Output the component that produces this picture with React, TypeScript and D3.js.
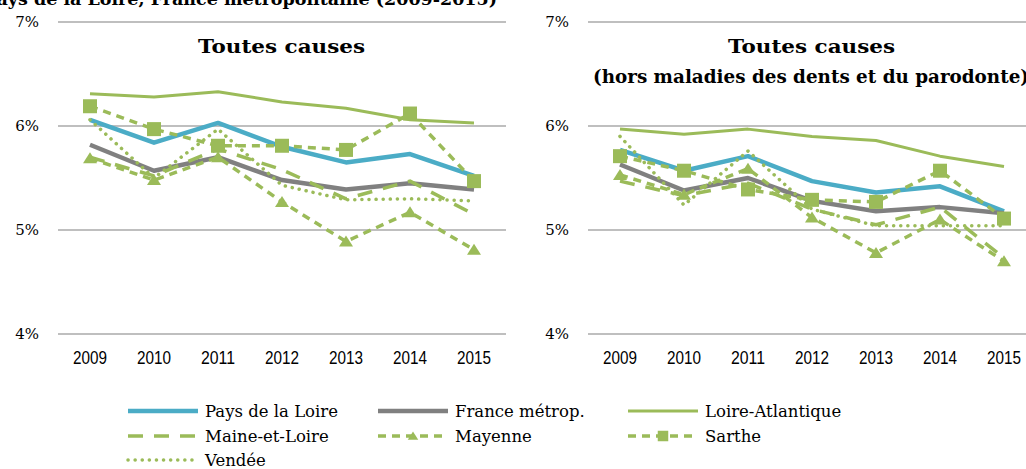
import React from "react";
import * as d3 from "d3";

// categories
const years = ["2009", "2010", "2011", "2012", "2013", "2014", "2015"];
const yTicks = [4, 5, 6, 7];

// Toutes causes
const paysLoireA = [6.06, 5.84, 6.03, 5.8, 5.65, 5.73, 5.52];
const franceA = [5.82, 5.57, 5.7, 5.48, 5.39, 5.45, 5.39];
const loireAtlA = [6.31, 6.28, 6.33, 6.23, 6.17, 6.06, 6.03];
const maineA = [5.7, 5.52, 5.78, 5.58, 5.3, 5.47, 5.15];
const mayenneA = [5.69, 5.48, 5.7, 5.27, 4.89, 5.17, 4.81];
const sartheA = [6.19, 5.97, 5.81, 5.81, 5.77, 6.12, 5.47];
const vendeeA = [6.06, 5.5, 5.97, 5.43, 5.29, 5.3, 5.28];

// Toutes causes (hors maladies des dents et du parodonte)
const paysLoireB = [5.77, 5.57, 5.71, 5.47, 5.36, 5.42, 5.18];
const franceB = [5.63, 5.38, 5.5, 5.28, 5.18, 5.22, 5.16];
const loireAtlB = [5.97, 5.92, 5.97, 5.9, 5.86, 5.71, 5.61];
const maineB = [5.47, 5.33, 5.45, 5.2, 5.05, 5.22, 4.73];
const mayenneB = [5.53, 5.34, 5.59, 5.12, 4.78, 5.1, 4.7];
const sartheB = [5.71, 5.57, 5.39, 5.29, 5.27, 5.57, 5.11];
const vendeeB = [5.9, 5.24, 5.76, 5.2, 5.04, 5.04, 5.04];

const BLUE = "#4BACC6";
const GREY = "#808080";
const GREEN = "#9BBB59";
const SERIF = "'DejaVu Serif', serif";
const SANS = "'Liberation Sans', sans-serif";

type Style = {
  name: string;
  color: string;
  width: number;
  dash?: string;
  cap?: "round" | "butt";
  marker?: "square" | "triangle";
};

const styles: Style[] = [
  { name: "Pays de la Loire", color: BLUE, width: 4.5 },
  { name: "France métrop.", color: GREY, width: 4.5 },
  { name: "Loire-Atlantique", color: GREEN, width: 3 },
  { name: "Maine-et-Loire", color: GREEN, width: 3.5, dash: "15,11" },
  { name: "Mayenne", color: GREEN, width: 3.5, dash: "8,6", marker: "triangle" },
  { name: "Sarthe", color: GREEN, width: 3.5, dash: "8,6", marker: "square" },
  { name: "Vendée", color: GREEN, width: 3.5, dash: "0.1,7", cap: "round" },
];

const Marker = ({ kind, x, y, s = 1 }: { kind?: string; x: number; y: number; s?: number }) => {
  if (kind === "square")
    return <rect x={x - 7 * s} y={y - 7 * s} width={14 * s} height={14 * s} fill={GREEN} />;
  if (kind === "triangle")
    return <path d={`M${x},${y - 6 * s}L${x + 7 * s},${y + 5 * s}L${x - 7 * s},${y + 5 * s}Z`} fill={GREEN} />;
  return null;
};

const Panel = ({ x0, series, yLabX }: { x0: number; series: number[][]; yLabX: number }) => {
  const x = d3.scaleBand<string>().domain(years).range([x0, x0 + 448]);
  const y = d3.scaleLinear().domain([4, 7]).range([334, 22]);
  const cx = (yr: string) => (x(yr) as number) + x.bandwidth() / 2;
  const line = d3.line<number>().x((_, i) => cx(years[i])).y((v) => y(v));
  return (
    <g>
      {yTicks.map((t) => (
        <g key={t}>
          <line x1={x0} x2={x0 + 448} y1={y(t)} y2={y(t)} stroke="#BFBFBF" strokeWidth={2} />
          <text x={yLabX} y={y(t) + 5} textAnchor="end" fontFamily={SERIF} fontSize={15}>
            {t}%
          </text>
        </g>
      ))}
      {years.map((yr) => (
        <text
          key={yr}
          x={cx(yr) - 17}
          y={364}
          fontFamily={SANS}
          fontSize={18.5}
          textLength={34}
          lengthAdjust="spacingAndGlyphs"
        >
          {yr}
        </text>
      ))}
      {series.map((vals, i) => {
        const s = styles[i];
        return (
          <g key={s.name}>
            <path
              d={line(vals) as string}
              fill="none"
              stroke={s.color}
              strokeWidth={s.width}
              strokeDasharray={s.dash}
              strokeLinecap={s.cap || "butt"}
              strokeLinejoin="round"
            />
            {s.marker && vals.map((v, j) => <Marker key={j} kind={s.marker} x={cx(years[j])} y={y(v)} />)}
          </g>
        );
      })}
    </g>
  );
};

const legendPos = [
  [128, 411], [378, 411], [628, 411],
  [128, 436], [378, 436], [628, 436],
  [128, 460],
];

export default function App() {
  return (
    <svg
      width={1026}
      height={469}
      style={{ position: "absolute", left: 0, top: 0, background: "#fff" }}
    >
      <text x={497} y={5} textAnchor="end" fontFamily={SERIF} fontWeight="bold" fontSize={17.5}>
        Pays de la Loire, France métropolitaine (2009-2015)
      </text>
      <text
        x={198}
        y={53}
        fontFamily={SERIF}
        fontWeight="bold"
        fontSize={18}
        textLength={167}
        lengthAdjust="spacingAndGlyphs"
      >
        Toutes causes
      </text>
      <text
        x={728}
        y={53}
        fontFamily={SERIF}
        fontWeight="bold"
        fontSize={18}
        textLength={167}
        lengthAdjust="spacingAndGlyphs"
      >
        Toutes causes
      </text>
      <text
        x={593}
        y={83}
        fontFamily={SERIF}
        fontWeight="bold"
        fontSize={18}
        textLength={436}
        lengthAdjust="spacingAndGlyphs"
      >
        (hors maladies des dents et du parodonte)
      </text>
      <Panel x0={58} yLabX={39} series={[paysLoireA, franceA, loireAtlA, maineA, mayenneA, sartheA, vendeeA]} />
      <Panel x0={588} yLabX={569} series={[paysLoireB, franceB, loireAtlB, maineB, mayenneB, sartheB, vendeeB]} />
      {styles.map((s, i) => {
        const [lx, ly] = legendPos[i];
        return (
          <g key={s.name}>
            <line
              x1={lx}
              x2={lx + 70}
              y1={ly}
              y2={ly}
              stroke={s.color}
              strokeWidth={s.width}
              strokeDasharray={s.dash}
              strokeLinecap={s.cap || "butt"}
            />
            <Marker kind={s.marker} x={lx + 35} y={ly} s={0.75} />
            <text x={lx + 77} y={ly + 6} fontFamily={SERIF} fontSize={16.5}>
              {s.name}
            </text>
          </g>
        );
      })}
    </svg>
  );
}
